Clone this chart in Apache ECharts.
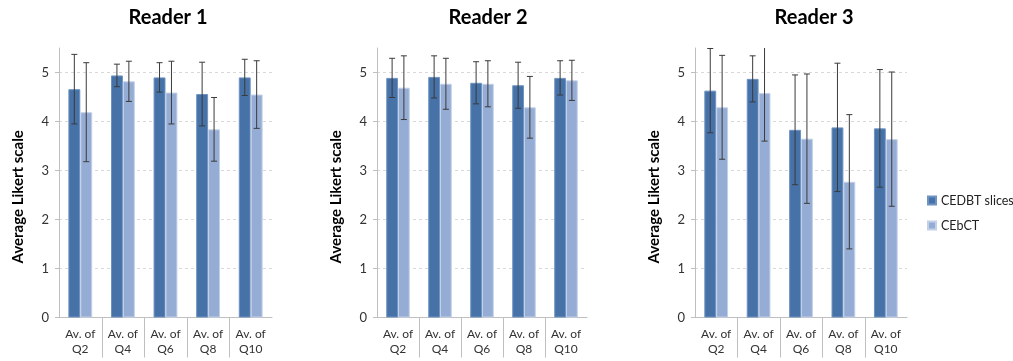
<!DOCTYPE html>
<html>
<head>
<meta charset="utf-8">
<script src="https://cdn.jsdelivr.net/npm/echarts@6/dist/echarts.min.js"></script>
<style>
  html, body { margin: 0; padding: 0; background: #fff; }
  #chart { width: 1013px; height: 361px; }
</style>
</head>
<body>
<div id="chart"></div>
<script>
const categories = ['Av. of\nQ2', 'Av. of\nQ4', 'Av. of\nQ6', 'Av. of\nQ8', 'Av. of\nQ10']
const readers = ['Reader 1', 'Reader 2', 'Reader 3']
const seriesNames = ['CEDBT slices', 'CEbCT']
const yTicks = [0, 1, 2, 3, 4, 5]

// mean scores and standard deviations, per reader
const r1Cedbt = [4.66, 4.94, 4.90, 4.56, 4.90]
const r1CedbtSd = [0.71, 0.23, 0.30, 0.65, 0.37]
const r1Cebct = [4.19, 4.82, 4.59, 3.84, 4.55]
const r1CebctSd = [1.01, 0.41, 0.64, 0.65, 0.69]

const r2Cedbt = [4.89, 4.91, 4.79, 4.74, 4.89]
const r2CedbtSd = [0.40, 0.43, 0.43, 0.47, 0.35]
const r2Cebct = [4.69, 4.77, 4.77, 4.29, 4.84]
const r2CebctSd = [0.65, 0.52, 0.47, 0.63, 0.41]

const r3Cedbt = [4.63, 4.87, 3.83, 3.88, 3.86]
const r3CedbtSd = [0.86, 0.47, 1.12, 1.31, 1.20]
const r3Cebct = [4.29, 4.58, 3.65, 2.77, 3.64]
const r3CebctSd = [1.06, 0.98, 1.32, 1.37, 1.37]

const means = [[r1Cedbt, r1Cebct], [r2Cedbt, r2Cebct], [r3Cedbt, r3Cebct]]
const sds = [[r1CedbtSd, r1CebctSd], [r2CedbtSd, r2CebctSd], [r3CedbtSd, r3CebctSd]]

const colors = ['#4672a8', '#95add4']
const borders = ['#6f93c2', '#c3d1e8']
const font = 'Lato'
const barPct = 0.28

const grids = [
  { left: 59, width: 213 },
  { left: 377, width: 210 },
  { left: 695, width: 212 }
]
const titleCenters = [163, 483, 809]

function errorBar (params, api) {
  const cat = api.value(0)
  const side = api.value(3)
  const mean = api.value(1)
  const sd = api.value(2)
  const band = api.size([1, 0])[0]
  const base = api.coord([cat, mean])
  const x = base[0] + (side === 0 ? -1 : 1) * band * barPct / 2
  const top = api.coord([cat, mean + sd])[1]
  const bot = api.coord([cat, mean - sd])[1]
  const cs = params.coordSys
  const yTop = Math.max(top, cs.y)
  const children = [{
    type: 'line',
    shape: { x1: x, y1: yTop, x2: x, y2: bot },
    style: { stroke: '#3a3a3a', lineWidth: 1 }
  }, {
    type: 'line',
    shape: { x1: x - 3, y1: bot, x2: x + 3, y2: bot },
    style: { stroke: '#3a3a3a', lineWidth: 1 }
  }]
  if (top >= cs.y) {
    children.push({
      type: 'line',
      shape: { x1: x - 3, y1: top, x2: x + 3, y2: top },
      style: { stroke: '#3a3a3a', lineWidth: 1 }
    })
  }
  return { type: 'group', children }
}

// separators between categories, below the axis (not at the ends)
function divider (params, api) {
  const cat = api.value(0)
  const band = api.size([1, 0])[0]
  const p = api.coord([cat, 0])
  const x = Math.round(p[0] - band / 2) + 0.5
  return {
    type: 'line',
    shape: { x1: x, y1: p[1], x2: x, y2: p[1] + 40 },
    style: { stroke: '#bfbfbf', lineWidth: 1 }
  }
}

const chart = echarts.init(document.getElementById('chart'), null, { renderer: 'canvas' })

const option = {
  animation: false,
  textStyle: { fontFamily: font },
  title: readers.map((r, i) => ({
    text: r,
    left: titleCenters[i],
    top: 3,
    textAlign: 'center',
    textStyle: { fontFamily: font, fontSize: 20, fontWeight: 'bold', color: '#000' }
  })),
  legend: {
    data: seriesNames,
    orient: 'vertical',
    left: 922,
    top: 189,
    icon: 'rect',
    itemWidth: 8,
    itemHeight: 8,
    itemGap: 12,
    textStyle: { fontFamily: font, fontSize: 12.5, color: '#222' }
  },
  grid: grids.map(g => ({ left: g.left, width: g.width, top: 48, bottom: 43.5 })),
  xAxis: grids.map((g, i) => ({
    type: 'category',
    gridIndex: i,
    data: categories,
    axisLine: { lineStyle: { color: '#bfbfbf' } },
    axisTick: { show: false },
    axisLabel: { fontFamily: font, fontSize: 12, color: '#333', lineHeight: 15, margin: 9, interval: 0 }
  })),
  yAxis: grids.map((g, i) => ({
    type: 'value',
    gridIndex: i,
    min: 0,
    max: 5.5,
    interval: 1,
    name: 'Average Likert scale',
    nameLocation: 'middle',
    nameGap: 33,
    nameTextStyle: { fontFamily: font, fontSize: 15, fontWeight: 'bold', color: '#000', padding: [0, 28, 0, 0] },
    axisLine: { show: true, lineStyle: { color: '#bfbfbf' } },
    axisTick: { show: true, length: 4, lineStyle: { color: '#bfbfbf' } },
    axisLabel: {
      fontFamily: font, fontSize: 13, color: '#333', margin: 10, showMaxLabel: false,
      formatter: v => (yTicks.includes(v) ? String(v) : '')
    },
    splitLine: { show: true, showMaxLine: false, lineStyle: { color: '#d9d9d9', type: [3, 3] } }
  })),
  series: []
}

readers.forEach((r, i) => {
  seriesNames.forEach((name, s) => {
    option.series.push({
      name,
      type: 'bar',
      xAxisIndex: i,
      yAxisIndex: i,
      data: means[i][s],
      barWidth: (barPct * 100) + '%',
      barGap: '0%',
      itemStyle: { color: colors[s], borderColor: borders[s], borderWidth: 1 }
    })
  })
  const errData = []
  seriesNames.forEach((name, s) => {
    means[i][s].forEach((m, k) => errData.push([k, m, sds[i][s][k], s]))
  })
  option.series.push({
    type: 'custom',
    xAxisIndex: i,
    yAxisIndex: i,
    renderItem: errorBar,
    data: errData,
    z: 10,
    silent: true
  })
  option.series.push({
    type: 'custom',
    xAxisIndex: i,
    yAxisIndex: i,
    renderItem: divider,
    data: categories.slice(1).map((c, k) => [k + 1]),
    clip: false,
    silent: true
  })
})

chart.setOption(option)
</script>
</body>
</html>
